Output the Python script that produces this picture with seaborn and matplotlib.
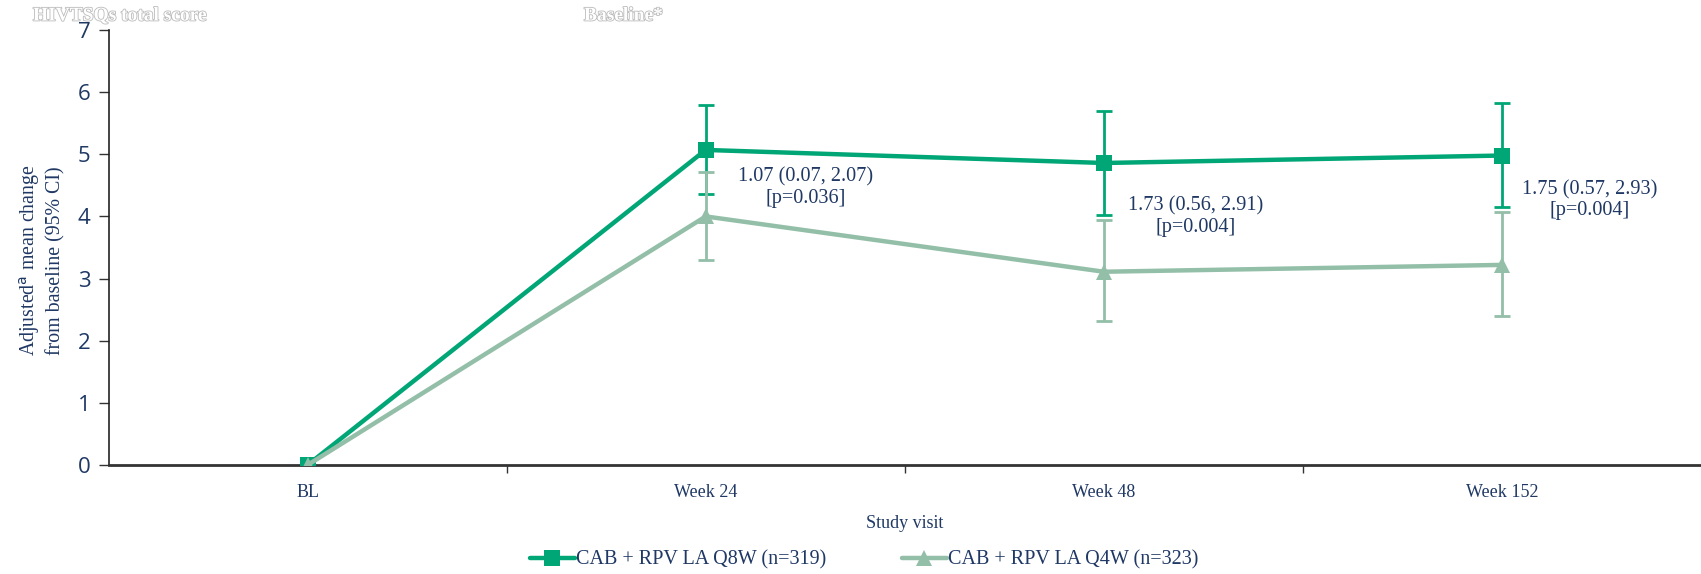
import numpy as np
import pandas as pd
import matplotlib
matplotlib.use("Agg")
import matplotlib.pyplot as plt
import matplotlib.patheffects as pe
from matplotlib.lines import Line2D
import seaborn as sns

visits = ["BL", "Week 24", "Week 48", "Week 152"]
q8w_label = "CAB + RPV LA Q8W (n=319)"
q4w_label = "CAB + RPV LA Q4W (n=323)"
q8w_mean = [0.0, 5.07, 4.86, 4.98]
q8w_lo = [0.0, 4.36, 4.03, 4.15]
q8w_hi = [0.0, 5.79, 5.69, 5.83]
q4w_mean = [0.0, 4.00, 3.11, 3.22]
q4w_lo = [0.0, 3.30, 2.31, 2.40]
q4w_hi = [0.0, 4.72, 3.95, 4.07]
diff_text = ["", "1.07 (0.07, 2.07)\n[p=0.036]", "1.73 (0.56, 2.91)\n[p=0.004]", "1.75 (0.57, 2.93)\n[p=0.004]"]
diff_y = [0, 4.46, 4.00, 4.26]
diff_dx = [0, 0.25, 0.23, 0.22]
y_ticks = [0, 1, 2, 3, 4, 5, 6, 7]

c8 = "#00A676"
c4 = "#93BFA8"
navy = "#1F3864"

sns.set_theme(style="white")
plt.rcParams['font.family'] = ['Liberation Serif', 'DejaVu Serif']

fig = plt.figure(figsize=(17.01, 5.74), dpi=100)
ax = fig.add_axes([108.5 / 1701, 1 - 465 / 574, 1 - 108.5 / 1701, (465 - 30) / 574])

df = pd.DataFrame({
    "visit": visits * 2,
    "value": q8w_mean + q4w_mean,
    "arm": [q8w_label] * 4 + [q4w_label] * 4,
})
df["x"] = df["visit"].map({v: i for i, v in enumerate(visits)})

xs = np.arange(len(visits))
for mean, lo, hi, col in [(q8w_mean, q8w_lo, q8w_hi, c8), (q4w_mean, q4w_lo, q4w_hi, c4)]:
    m = np.array(mean)[1:]
    ax.errorbar(xs[1:], m, yerr=[m - np.array(lo)[1:], np.array(hi)[1:] - m],
                fmt="none", ecolor=col, elinewidth=2, capsize=6, capthick=2, zorder=2)

sns.lineplot(data=df, x="x", y="value", hue="arm", style="arm",
             palette={q8w_label: c8, q4w_label: c4},
             markers={q8w_label: "s", q4w_label: "^"}, dashes=False,
             linewidth=3.2, markersize=11, markeredgewidth=0, ax=ax, legend=False,
             zorder=3)

for i, t in enumerate(diff_text):
    if t:
        ax.text(i + diff_dx[i], diff_y[i], t, ha="center", va="center", color=navy,
                fontsize=14.6, linespacing=1.15)

ax.set_xlim(-0.5, 3.5)
ax.set_ylim(0, 7)
ax.set_xticks(xs)
ax.set_xticklabels(visits, color=navy, fontsize=13)
ax.set_xticks([0.5, 1.5, 2.5], minor=True)
ax.tick_params(axis="x", which="major", length=0, pad=14)
ax.tick_params(axis="x", which="minor", length=6, width=1, color="#333333", direction="out", bottom=True)
ax.set_yticks(y_ticks)
ax.set_yticklabels([str(v) for v in y_ticks], color=navy, fontsize=16, family="Open Sans")
ax.tick_params(axis="y", length=7, width=1, color="#333333", direction="out", left=True, pad=6)

for s in ["top", "right"]:
    ax.spines[s].set_visible(False)
ax.spines["left"].set_color("#222222")
ax.spines["left"].set_linewidth(1.2)
ax.spines["bottom"].set_color("#333333")
ax.spines["bottom"].set_linewidth(2)

ax.set_xlabel("Study visit", color=navy, fontsize=13, labelpad=10)
ax.set_ylabel("Adjusted$^{\\mathrm{a}}$ mean change\nfrom baseline (95% CI)", color=navy,
              fontsize=14.3, linespacing=1.3)
ax.yaxis.set_label_coords(-0.027, 0.47)

outline = [pe.withStroke(linewidth=1.2, foreground="#BBBBBB")]
fig.text(33 / 1701, 1 - 16 / 574, "HIVTSQs total score", color="white", fontsize=14,
         fontweight="bold", va="center", ha="left", path_effects=outline)
fig.text(584 / 1701, 1 - 16 / 574, "Baseline*", color="white", fontsize=14,
         fontweight="bold", va="center", ha="left", path_effects=outline)

handles = [Line2D([], [], color=c8, marker="s", lw=3.2, markersize=11, markeredgewidth=0),
           Line2D([], [], color=c4, marker="^", lw=3.2, markersize=11, markeredgewidth=0)]
fig.legend(handles, [q8w_label, q4w_label], loc="center", bbox_to_anchor=(0.508, 1 - 560 / 574),
           ncol=2, frameon=False, fontsize=14.5, handlelength=2.2, handletextpad=0.05,
           columnspacing=3.8, labelcolor=navy)

fig.savefig("out.png", dpi=100)
